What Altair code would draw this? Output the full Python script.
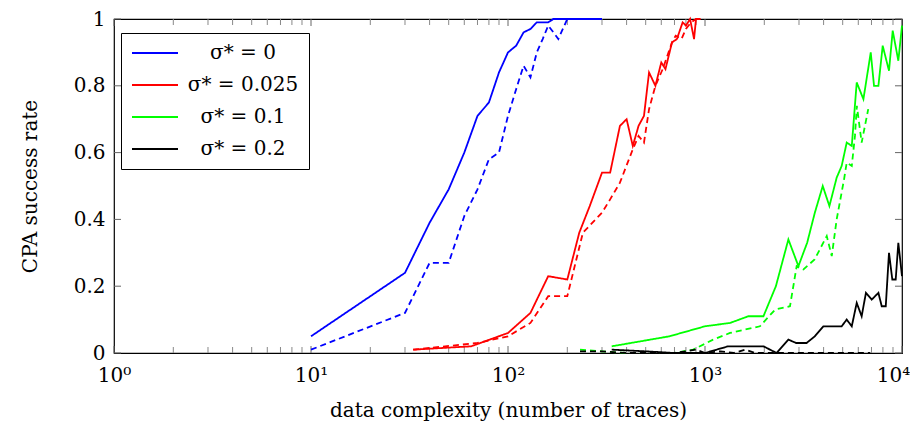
import altair as alt
import pandas as pd

series_names = ["σ* = 0", "σ* = 0.025", "σ* = 0.1", "σ* = 0.2"]
series_colors = ["#0000ff", "#ff0000", "#00ff00", "#000000"]

# sigma* = 0
blue_solid_x = [10, 30, 40, 50, 60, 70, 80, 90, 100, 110, 120, 130, 140, 150, 160, 170, 200, 250, 300]
blue_solid_y = [0.05, 0.24, 0.39, 0.49, 0.60, 0.71, 0.75, 0.84, 0.90, 0.92, 0.96, 0.97, 0.99, 0.99, 0.99, 1.0, 1.0, 1.0, 1.0]
blue_dash_x = [10, 30, 40, 50, 60, 70, 80, 90, 100, 110, 120, 130, 140, 150, 160, 170, 180, 200]
blue_dash_y = [0.01, 0.12, 0.27, 0.27, 0.41, 0.49, 0.58, 0.60, 0.71, 0.79, 0.86, 0.825, 0.90, 0.94, 0.98, 0.96, 0.94, 1.0]

# sigma* = 0.025
red_solid_x = [33, 65, 100, 130, 160, 200, 230, 260, 300, 330, 370, 400, 430, 460, 490, 520, 560, 600, 630, 680, 720, 770, 800, 840, 880, 900, 950]
red_solid_y = [0.01, 0.02, 0.06, 0.12, 0.23, 0.22, 0.36, 0.44, 0.54, 0.54, 0.68, 0.70, 0.62, 0.68, 0.71, 0.84, 0.80, 0.87, 0.85, 0.93, 0.94, 0.99, 0.98, 1.0, 0.94, 1.0, 1.0]
red_dash_x = [33, 70, 100, 130, 160, 200, 240, 300, 330, 370, 430, 460, 490, 520, 560, 610, 680, 710, 760, 800, 850, 900]
red_dash_y = [0.01, 0.03, 0.05, 0.09, 0.17, 0.17, 0.36, 0.42, 0.46, 0.51, 0.61, 0.65, 0.63, 0.73, 0.80, 0.85, 0.93, 0.95, 0.94, 0.97, 0.99, 1.0]

# sigma* = 0.1
green_solid_x = [336, 660, 1000, 1340, 1660, 1980, 2290, 2650, 2980, 3300, 3610, 3960, 4280, 4660, 4940, 5240, 5560, 5890, 6370, 6940, 7210, 7590, 7980, 8590, 8970, 9580, 10000]
green_solid_y = [0.02, 0.05, 0.08, 0.09, 0.11, 0.11, 0.20, 0.34, 0.26, 0.33, 0.42, 0.50, 0.44, 0.525, 0.56, 0.63, 0.62, 0.81, 0.76, 0.90, 0.80, 0.80, 0.92, 0.845, 0.965, 0.875, 0.98]
green_dash_x = [232, 300, 400, 500, 600, 700, 870, 1100, 1340, 1900, 2270, 2700, 2920, 3160, 3600, 4150, 4400, 4660, 5080, 5240, 5560, 5770, 5900, 6240, 6740]
green_dash_y = [0.01, 0.005, 0.0, 0.0, 0.0, 0.0, 0.01, 0.04, 0.06, 0.08, 0.13, 0.14, 0.26, 0.25, 0.28, 0.35, 0.29, 0.40, 0.52, 0.57, 0.56, 0.65, 0.74, 0.63, 0.73]

# sigma* = 0.2
black_solid_x = [336, 500, 700, 1000, 1310, 1980, 2310, 2650, 2900, 3280, 3610, 3990, 4940, 5240, 5560, 5890, 6240, 6560, 7020, 7590, 7890, 8270, 8590, 8930, 9290, 9580, 10000]
black_solid_y = [0.01, 0.005, 0.0, 0.0, 0.02, 0.02, 0.0, 0.04, 0.03, 0.03, 0.05, 0.08, 0.08, 0.10, 0.08, 0.15, 0.11, 0.18, 0.16, 0.18, 0.14, 0.14, 0.30, 0.22, 0.22, 0.33, 0.23]
black_dash_x = [232, 300, 400, 500, 600, 700, 800, 900, 1000, 1200, 1400, 1600, 1800, 2000, 2300, 2700, 3200, 3700, 4300, 5000, 5800, 6900]
black_dash_y = [0.005, 0.005, 0.0, 0.0, 0.0, 0.0, 0.005, 0.01, 0.0, 0.005, 0.0, 0.01, 0.0, 0.0, 0.0, 0.0, 0.0, 0.0, 0.0, 0.0, 0.0, 0.0]

x_tick_values = [1, 10, 100, 1000, 10000]
x_tick_labels = ["10⁰", "10¹", "10²", "10³", "10⁴"]
y_tick_values = [0, 0.2, 0.4, 0.6, 0.8, 1]
x_minor_values = [m * 10 ** d for d in range(4) for m in range(2, 10)]

rows = []
def add(name, style, xs, ys):
    for a, b in zip(xs, ys):
        rows.append({"series": name, "style": style, "x": a, "y": b})

add(series_names[0], "solid", blue_solid_x, blue_solid_y)
add(series_names[0], "dashed", blue_dash_x, blue_dash_y)
add(series_names[1], "solid", red_solid_x, red_solid_y)
add(series_names[1], "dashed", red_dash_x, red_dash_y)
add(series_names[2], "solid", green_solid_x, green_solid_y)
add(series_names[2], "dashed", green_dash_x, green_dash_y)
add(series_names[3], "solid", black_solid_x, black_solid_y)
add(series_names[3], "dashed", black_dash_x, black_dash_y)
df = pd.DataFrame(rows)

W, H = 788, 334
FONT = "DejaVu Serif"

label_expr = " : ".join(
    f"datum.value == {v} ? '{l}'" for v, l in zip(x_tick_values, x_tick_labels)
) + " : ''"

xscale = alt.Scale(type="log", domain=[1, 10000], nice=False)
yscale = alt.Scale(domain=[0, 1], nice=False)

x_axis = alt.Axis(values=x_tick_values, labelExpr=label_expr, ticks=False, domain=False,
                  grid=False, labelFont=FONT, labelFontSize=20, labelColor="black",
                  labelPadding=12, labelFlush=False, labelOverlap=False, labelBound=False,
                  labelOffset={"condition": {"test": f"datum.value == {x_tick_values[-1]}", "value": -9}, "value": 0},
                  title="data complexity (number of traces)",
                  titleFont=FONT, titleFontSize=20, titleFontWeight="normal",
                  titleColor="black", titleY=57, titleBaseline="middle")
y_axis = alt.Axis(values=y_tick_values, format="~g", ticks=False, domain=False,
                  grid=False, labelFont=FONT, labelFontSize=20, labelColor="black",
                  labelPadding=9, labelFlush=False, labelOverlap=False,
                  title="CPA success rate", titleFont=FONT,
                  titleFontSize=20, titleFontWeight="normal", titleColor="black",
                  titleX=-84, titleY=H / 2, titleBaseline="middle", titleAlign="center")

lines = alt.Chart(df).mark_line(strokeWidth=1.8).encode(
    x=alt.X("x:Q", scale=xscale, axis=x_axis),
    y=alt.Y("y:Q", scale=yscale, axis=y_axis),
    color=alt.Color("series:N", scale=alt.Scale(domain=series_names, range=series_colors),
                    legend=alt.Legend(title=None, orient="none", legendX=7, legendY=14,
                                      symbolType="stroke", symbolSize=2116, symbolStrokeWidth=1.8,
                                      clipHeight=20,
                                      labelFont=FONT, labelFontSize=20, labelColor="black",
                                      labelAlign="center", labelOffset=64, labelLimit=400,
                                      strokeColor="black", fillColor="white", padding=10,
                                      rowPadding=12)),
    strokeDash=alt.StrokeDash("style:N", scale=alt.Scale(domain=["solid", "dashed"], range=[[1, 0], [6, 4]]),
                              legend=None),
)

xmaj = pd.DataFrame({"x": x_tick_values})
xmin = pd.DataFrame({"x": x_minor_values})
yt = pd.DataFrame({"y": y_tick_values})

def xticks(data, length, color):
    bottom = alt.Chart(data).mark_rule(color=color, strokeWidth=1).encode(
        x=alt.X("x:Q", scale=xscale, axis=x_axis), y=alt.value(H), y2=alt.value(H - length))
    top = alt.Chart(data).mark_rule(color=color, strokeWidth=1).encode(
        x=alt.X("x:Q", scale=xscale, axis=x_axis), y=alt.value(0), y2=alt.value(length))
    return [bottom, top]

yleft = alt.Chart(yt).mark_rule(color="#666", strokeWidth=1).encode(
    y=alt.Y("y:Q", scale=yscale, axis=y_axis), x=alt.value(0), x2=alt.value(7))
yright = alt.Chart(yt).mark_rule(color="#666", strokeWidth=1).encode(
    y=alt.Y("y:Q", scale=yscale, axis=y_axis), x=alt.value(W), x2=alt.value(W - 7))

chart = alt.layer(
    *xticks(xmin, 6, "#888"), *xticks(xmaj, 7, "#666"), yleft, yright, lines
).properties(
    width=W, height=H,
    autosize=alt.AutoSizeParams(type="none"),
    padding={"left": 106, "top": 11, "right": 8, "bottom": 71},
).configure_view(stroke="black", strokeWidth=1.2)

chart.save("out.html", embed_options={"renderer": "svg", "actions": False})
